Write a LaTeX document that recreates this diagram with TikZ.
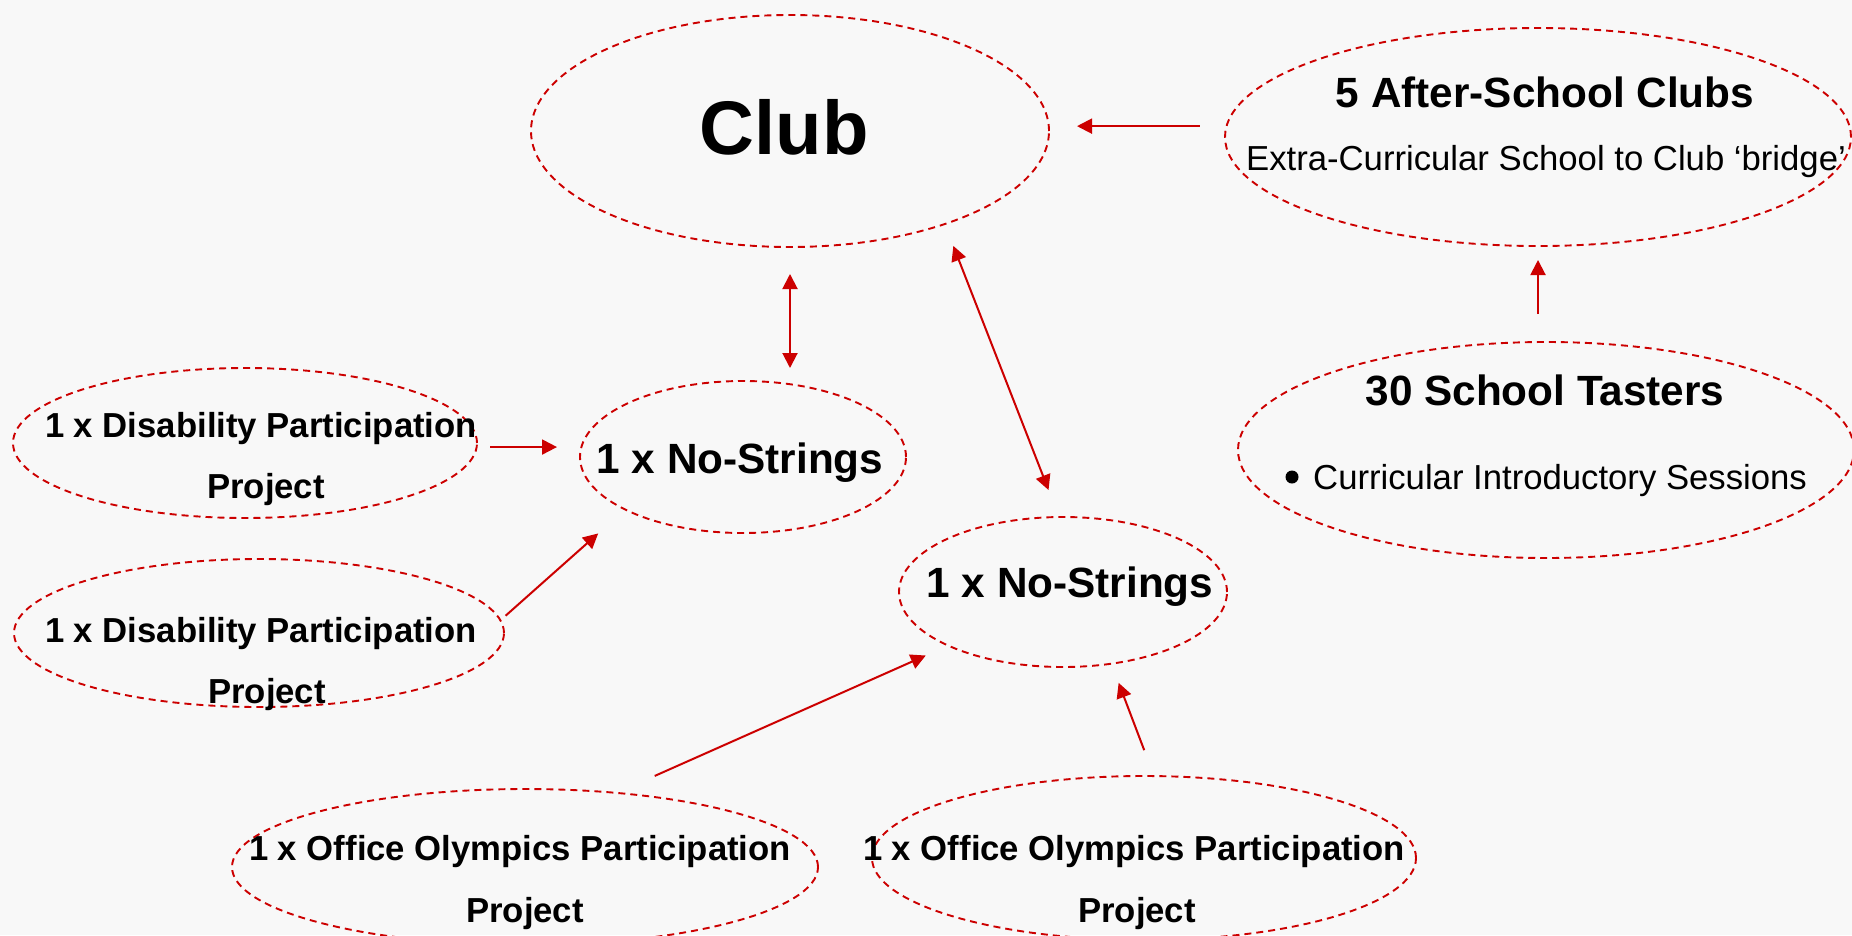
\documentclass[tikz,border=0pt]{standalone}
\usepackage{fontspec}
\setmainfont{Liberation Sans}
\usetikzlibrary{shapes.geometric,arrows.meta}
\definecolor{dred}{RGB}{204,0,0}
\definecolor{bgc}{RGB}{248,248,248}
\begin{document}
\begin{tikzpicture}[x=1pt,y=-1pt,
  oval/.style={ellipse,draw=dred,line width=1.9pt,dash pattern=on 7pt off 5pt,inner sep=0pt,outer sep=0pt},
  tipx/.tip={Triangle[length=15pt,width=15pt]},
  arr/.style={draw=dred,line width=2pt,-tipx},
  darr/.style={draw=dred,line width=2pt,tipx-tipx},
  big/.style={font=\fontsize{76}{80}\selectfont\bfseries,anchor=base,inner sep=0pt},
  head/.style={font=\fontsize{42.3}{46}\selectfont\bfseries,anchor=base,inner sep=0pt},
  lbl/.style={font=\fontsize{34.7}{40}\selectfont\bfseries,anchor=base,inner sep=0pt},
  sub/.style={font=\fontsize{34.7}{40}\selectfont,anchor=base,inner sep=0pt},
]
\useasboundingbox (0,0) rectangle (1852,935);
\clip (0,0) rectangle (1852,935);
\fill[bgc] (0,0) rectangle (1852,935);

% ellipses
\node[oval,minimum width=518,minimum height=232] (club) at (790,131) {};
\node[oval,minimum width=626,minimum height=218] (as) at (1538,137) {};
\node[oval,minimum width=616,minimum height=216] (tasters) at (1546,450) {};
\node[oval,minimum width=326,minimum height=152] (ns1) at (743,457) {};
\node[oval,minimum width=328,minimum height=150] (ns2) at (1063,592) {};
\node[oval,minimum width=464,minimum height=150] (dp1) at (245,443) {};
\node[oval,minimum width=490,minimum height=148] (dp2) at (259,633) {};
\node[oval,minimum width=586,minimum height=156] (oo1) at (525,867) {};
\node[oval,minimum width=544,minimum height=164] (oo2) at (1144,858) {};

% texts
\node[big] (clubt) at (784,154) {Club};
\node[head] (ast) at (1545,107) {5 After-School Clubs};
\node[sub] (ass) at (1546,170) {Extra-Curricular School to Club ‘bridge’};
\node[head] (tat) at (1545,405) {30 School Tasters};
\node[circle,fill=black,minimum size=13pt,inner sep=0pt] (bul) at (1292,477) {};
\node[sub,anchor=base west] (tas) at (1313,489) {Curricular Introductory Sessions};
\node[head] (ns1t) at (740,473) {1 x No-Strings};
\node[head] (ns2t) at (1070,597) {1 x No-Strings};
\node[lbl] (dp1a) at (261,437) {1 x Disability Participation};
\node[lbl] (dp1b) at (266,498) {Project};
\node[lbl] (dp2a) at (261,642) {1 x Disability Participation};
\node[lbl] (dp2b) at (267,703) {Project};
\node[lbl] (oo1a) at (520,860) {1 x Office Olympics Participation};
\node[lbl] (oo1b) at (525,922) {Project};
\node[lbl] (oo2a) at (1134,860) {1 x Office Olympics Participation};
\node[lbl] (oo2b) at (1137,922) {Project};

% connectors
\draw[arr,shorten <=27pt,shorten >=28pt] (as.178) -- (as.178 -| club.east);
\draw[arr,shorten <=28pt,shorten >=14pt] (tasters.north -| as.south) -- (as.south);
\draw[darr,shorten <=27pt,shorten >=13pt] (club.south) -- (club.south |- ns1.north);
\draw[darr,shorten <=23.5pt,shorten >=29pt] (club.-31) -- (ns2.93.4);
\draw[arr,shorten <=13.7pt,shorten >=23pt] (dp1.-1.5) -- (dp1.-1.5 -| ns1.west);
\draw[arr,shorten <=7pt,shorten >=36pt] (dp2.3.7) -- (ns1.204.1);
\draw[arr,shorten <=41.8pt,shorten >=24.5pt] (oo1.39.6) -- (ns2.205.5);
\draw[arr,shorten <=27.7pt,shorten >=20.5pt] (oo2.83.9) -- (ns2.-56.3);
\end{tikzpicture}
\end{document}
